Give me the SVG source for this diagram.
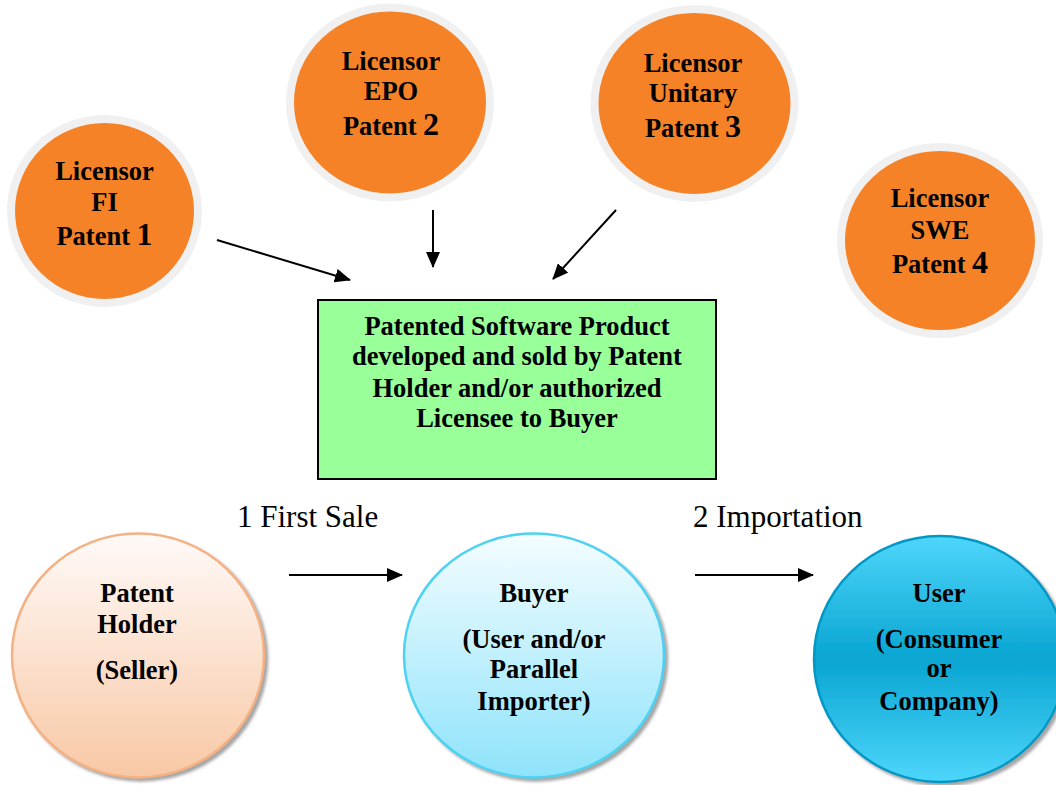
<svg xmlns="http://www.w3.org/2000/svg" width="1056" height="785" viewBox="0 0 1056 785">
<style>
.t{font-family:"Liberation Serif","Times New Roman",serif;font-weight:bold;font-size:26.5px;fill:#000;text-anchor:middle}
.big{font-size:32px}
.lbl{font-family:"Liberation Serif","Times New Roman",serif;font-size:31px;fill:#000}
.ring{fill:#f58226;stroke:#f0f0f0;stroke-width:8}
.conn{stroke:#000;stroke-width:2;fill:none;marker-end:url(#ah)}
</style>
<defs>
<marker id="ah" viewBox="0 0 16 14" refX="15" refY="7" markerWidth="16" markerHeight="14" markerUnits="userSpaceOnUse" orient="auto">
<path d="M0,0 L16,7 L0,14 Z" fill="#000"/>
</marker>
<linearGradient id="gPH" x1="0" y1="0" x2="0" y2="1">
<stop offset="0" stop-color="#fffaf8"/>
<stop offset="1" stop-color="#f8c8a5"/>
</linearGradient>
<linearGradient id="gB" x1="0" y1="0" x2="0" y2="1">
<stop offset="0" stop-color="#f4fdff"/>
<stop offset="1" stop-color="#8ee3fb"/>
</linearGradient>
<linearGradient id="gU" x1="0" y1="0" x2="0" y2="1">
<stop offset="0" stop-color="#4fd6fb"/>
<stop offset="0.5" stop-color="#08a5d2"/>
<stop offset="1" stop-color="#4fd6fb"/>
</linearGradient>
<filter id="sh" x="-10%" y="-10%" width="125%" height="125%">
<feDropShadow dx="3" dy="3" stdDeviation="1.5" flood-color="#7f7f7f" flood-opacity="0.7"/>
</filter>
</defs>
<rect width="1056" height="785" fill="#fff"/>

<g id="licensor-fi">
<ellipse class="ring" cx="104.5" cy="211" rx="93.5" ry="92"/>
<text class="t" x="104.5" y="180">Licensor</text>
<text class="t" x="104.5" y="211">FI</text>
<text class="t" x="104.5" y="245">Patent <tspan class="big">1</tspan></text>
</g>

<g id="licensor-epo">
<ellipse class="ring" cx="390" cy="102.5" rx="100" ry="95"/>
<text class="t" x="391" y="70">Licensor</text>
<text class="t" x="391" y="100">EPO</text>
<text class="t" x="391" y="135">Patent <tspan class="big">2</tspan></text>
</g>

<g id="licensor-unitary">
<ellipse class="ring" cx="694.5" cy="103.5" rx="100" ry="94.5"/>
<text class="t" x="693" y="72">Licensor</text>
<text class="t" x="693" y="102">Unitary</text>
<text class="t" x="693" y="137">Patent <tspan class="big">3</tspan></text>
</g>

<g id="licensor-swe">
<ellipse class="ring" cx="940" cy="240.5" rx="99" ry="93.5"/>
<text class="t" x="940" y="207">Licensor</text>
<text class="t" x="940" y="239">SWE</text>
<text class="t" x="940" y="273">Patent <tspan class="big">4</tspan></text>
</g>

<g id="product">
<rect x="318" y="300" width="398" height="179" fill="#99ff99" stroke="#000" stroke-width="2"/>
<text class="t" x="517" y="335">Patented Software Product</text>
<text class="t" x="517" y="365">developed and sold by Patent</text>
<text class="t" x="517" y="397">Holder and/or authorized</text>
<text class="t" x="517" y="427">Licensee to Buyer</text>
</g>

<g id="patent-holder">
<ellipse cx="138" cy="655.5" rx="126" ry="122" fill="url(#gPH)" stroke="#f4b183" stroke-width="2.5" filter="url(#sh)"/>
<text class="t" x="137" y="602">Patent</text>
<text class="t" x="137" y="633">Holder</text>
<text class="t" x="137" y="679">(Seller)</text>
</g>

<g id="buyer">
<ellipse cx="534" cy="655.5" rx="130" ry="122" fill="url(#gB)" stroke="#4dd2f2" stroke-width="2.5" filter="url(#sh)"/>
<text class="t" x="534" y="602">Buyer</text>
<text class="t" x="534" y="648">(User and/or</text>
<text class="t" x="534" y="678">Parallel</text>
<text class="t" x="534" y="710">Importer)</text>
</g>

<g id="user">
<ellipse cx="940" cy="659" rx="126" ry="123" fill="url(#gU)" stroke="#0399c6" stroke-width="2.5" filter="url(#sh)"/>
<text class="t" x="939" y="602">User</text>
<text class="t" x="939" y="648">(Consumer</text>
<text class="t" x="939" y="677">or</text>
<text class="t" x="939" y="710">Company)</text>
</g>

<g id="labels">
<text class="lbl" x="237" y="527">1 First Sale</text>
<text class="lbl" x="693" y="527">2 Importation</text>
</g>

<g id="connectors">
<line class="conn" x1="217" y1="240" x2="350" y2="280"/>
<line class="conn" x1="433" y1="210" x2="433" y2="267"/>
<line class="conn" x1="616" y1="210" x2="553" y2="279"/>
<line class="conn" x1="289" y1="575" x2="402" y2="575"/>
<line class="conn" x1="695" y1="575" x2="813" y2="575"/>
</g>
</svg>
